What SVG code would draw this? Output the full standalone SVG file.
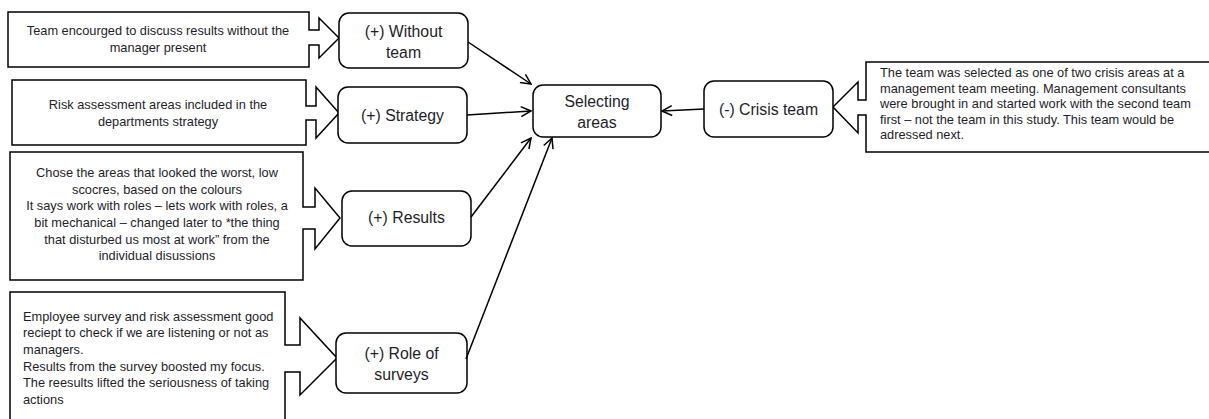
<svg xmlns="http://www.w3.org/2000/svg" width="1209" height="419" viewBox="0 0 1209 419">
<defs>
<style>
.callout{fill:#fff;stroke:#000;stroke-width:1.5;stroke-linejoin:miter}
.node{fill:#fff;stroke:#000;stroke-width:1.5}
.ct{font-family:"Liberation Sans",Arial,sans-serif;font-size:12.8px;fill:#1e1e2a}
.nt{font-family:"Liberation Sans",Arial,sans-serif;font-size:15.8px;fill:#1e1e2a;text-anchor:middle}
.mid{text-anchor:middle}
.conn{fill:none;stroke:#000;stroke-width:1.5;marker-end:url(#arr)}
</style>
<marker id="arr" viewBox="0 0 12 12" refX="11" refY="6" markerWidth="12" markerHeight="12" markerUnits="userSpaceOnUse" orient="auto">
<path d="M1,1 L11,6 L1,11" fill="none" stroke="#000" stroke-width="1.5"/>
</marker>
</defs>
<rect width="1209" height="419" fill="#fff"/>

<g id="callout-without">
<path class="callout" d="M8,12 H309 V30 H319 V18 L339,38 L319,58 V45 H309 V67 H8 Z"/>
<text class="ct mid" x="158" y="35">Team encourged to discuss results without the</text>
<text class="ct mid" x="158" y="52">manager present</text>
</g>
<g id="callout-strategy">
<path class="callout" d="M12,80 H306 V106 H316 V87 L339,113 L316,138 V120 H306 V145 H12 Z"/>
<text class="ct mid" x="158" y="109">Risk assessment areas included in the</text>
<text class="ct mid" x="158" y="126">departments strategy</text>
</g>
<g id="callout-results">
<path class="callout" d="M10,152 H303 V207 H315 V188 L340,218 L315,249 V229 H303 V280 H10 Z"/>
<text class="ct mid" x="157" y="177">Chose the areas that looked the worst, low</text>
<text class="ct mid" x="157" y="194">scocres, based on the colours</text>
<text class="ct mid" x="157" y="210">It says work with roles – lets work with roles, a</text>
<text class="ct mid" x="157" y="227">bit mechanical – changed later to *the thing</text>
<text class="ct mid" x="157" y="244">that disturbed us most at work” from the</text>
<text class="ct mid" x="157" y="260">individual disussions</text>
</g>
<g id="callout-surveys">
<path class="callout" d="M10,292 H285 V345 H300 V318 L337,358 L300,395 V372 H285 V430 H10 Z"/>
<text class="ct" x="23" y="321">Employee survey and risk assessment good</text>
<text class="ct" x="23" y="337">reciept to check if we are listening or not as</text>
<text class="ct" x="23" y="354">managers.</text>
<text class="ct" x="23" y="371">Results from the survey boosted my focus.</text>
<text class="ct" x="23" y="387">The reesults lifted the seriousness of taking</text>
<text class="ct" x="23" y="404">actions</text>
</g>
<g id="callout-crisis">
<path class="callout" d="M866,62 H1215 V152 H866 V115 H858 V133 L833,107 L858,82 V100 H866 Z"/>
<text class="ct" x="880" y="77">The team was selected as one of two crisis areas at a</text>
<text class="ct" x="880" y="92.5">management team meeting. Management consultants</text>
<text class="ct" x="880" y="108">were brought in and started work with the second team</text>
<text class="ct" x="880" y="124">first – not the team in this study. This team would be</text>
<text class="ct" x="880" y="139">adressed next.</text>
</g>

<g id="node-without">
<rect class="node" x="339" y="13" width="129" height="55" rx="10"/>
<text class="nt" x="403.5" y="37">(+) Without</text>
<text class="nt" x="403.5" y="58">team</text>
</g>
<g id="node-strategy">
<rect class="node" x="338" y="87" width="129" height="56" rx="10"/>
<text class="nt" x="402.5" y="121">(+) Strategy</text>
</g>
<g id="node-results">
<rect class="node" x="342" y="191" width="129" height="55" rx="10"/>
<text class="nt" x="406.5" y="223">(+) Results</text>
</g>
<g id="node-surveys">
<rect class="node" x="336" y="333" width="131" height="60" rx="10"/>
<text class="nt" x="401.5" y="359">(+) Role of</text>
<text class="nt" x="401.5" y="380">surveys</text>
</g>
<g id="node-selecting">
<rect class="node" x="533" y="85" width="128" height="52" rx="10"/>
<text class="nt" x="597" y="107">Selecting</text>
<text class="nt" x="597" y="128">areas</text>
</g>
<g id="node-crisis">
<rect class="node" x="704" y="81" width="129" height="56" rx="10"/>
<text class="nt" x="768.5" y="115">(-) Crisis team</text>
</g>

<g id="connectors">
<line class="conn" x1="468" y1="42" x2="531" y2="84"/>
<line class="conn" x1="467" y1="115" x2="531" y2="111"/>
<line class="conn" x1="471" y1="217" x2="531" y2="138"/>
<line class="conn" x1="466" y1="359" x2="552" y2="138"/>
<line class="conn" x1="704" y1="109" x2="662" y2="111"/>
</g>
</svg>
